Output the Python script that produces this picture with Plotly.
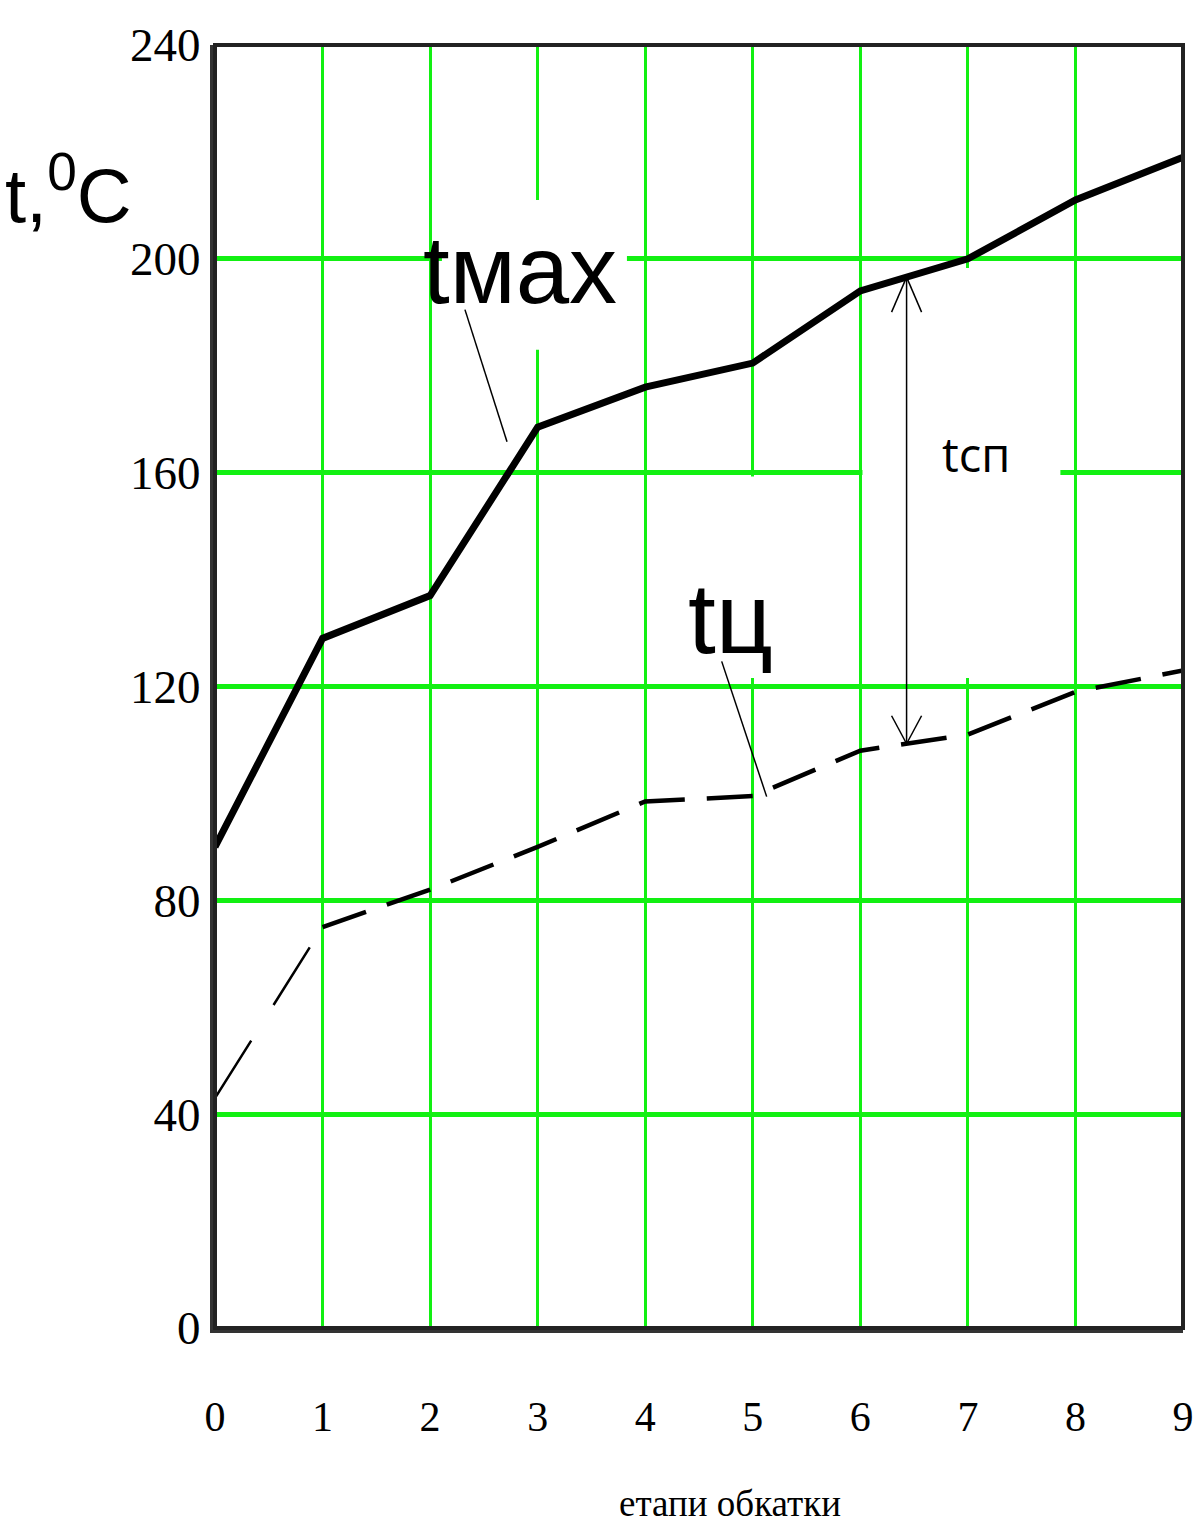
import numpy as np
import plotly.graph_objects as go

# Rolling-in stages and the two temperature curves (°C)
stages = [0, 1, 2, 3, 4, 5, 6, 7, 8, 9]
t_max = [90, 129, 137, 168.5, 176, 180.5, 194, 200, 211, 219]
t_c = [43, 75, 82, 90, 98.5, 99.5, 108, 111, 119, 123]

x_ticks = [0, 1, 2, 3, 4, 5, 6, 7, 8, 9]
y_ticks = [0, 40, 80, 120, 160, 200, 240]
x_title = "етапи обкатки"

# canvas geometry (px)
W, H = 1195, 1525
ML, MR, MT, MB = 215, 12, 45, 197
PW = W - ML - MR
PH = H - MT - MB
PLOT_BOTTOM = MT + PH
X_RANGE, Y_RANGE = (0, 9), (0, 240)
px_x = (X_RANGE[1] - X_RANGE[0]) / PW   # data units per pixel
px_y = (Y_RANGE[1] - Y_RANGE[0]) / PH


def paper_x(px):
    return (px - ML) / PW


def paper_y(py):
    return (PLOT_BOTTOM - py) / PH


GREEN = "#12f012"
SANS = "Liberation Sans, Arial, sans-serif"
SERIF = "Liberation Serif, Times New Roman, serif"

fig = go.Figure()

# t_max: solid heavy line
fig.add_trace(go.Scatter(
    x=stages, y=t_max, mode="lines",
    line=dict(color="black", width=7), showlegend=False, hoverinfo="skip"))

# t_c: thin dashed first stage, heavier dashes afterwards
fig.add_trace(go.Scatter(
    x=stages[:2], y=t_c[:2], mode="lines",
    line=dict(color="black", width=2.5, dash="68px,42px"),
    showlegend=False, hoverinfo="skip"))
fig.add_trace(go.Scatter(
    x=stages[1:], y=t_c[1:], mode="lines",
    line=dict(color="black", width=4.5, dash="46px,22px"),
    showlegend=False, hoverinfo="skip"))

# temperature difference arrow between the curves
xa = 6.43
ya_top = float(np.interp(xa, stages, t_max))
ya_bot = float(np.interp(xa, stages, t_c))
hx, hy = 15 * px_x, 35 * px_y
shapes = []

# white patches behind the labels (above grid, below curves)
for x0, x1, y0, y1 in [(2.11, 3.83, 183, 211),
                       (4.32, 5.35, 121.6, 159.3),
                       (6.02, 7.86, 121.6, 198.3)]:
    shapes.append(dict(type="rect", xref="x", yref="y", x0=x0, x1=x1, y0=y0, y1=y1,
                       fillcolor="white", line=dict(width=0), layer="between"))

arrow = [
    (xa, ya_top, xa, ya_bot),
    (xa, ya_top, xa - hx, ya_top - hy), (xa, ya_top, xa + hx, ya_top - hy),
    (xa, ya_bot, xa - hx, ya_bot + hy * 0.8), (xa, ya_bot, xa + hx, ya_bot + hy * 0.8),
]
for x0, y0, x1, y1 in arrow:
    shapes.append(dict(type="line", xref="x", yref="y", x0=x0, y0=y0, x1=x1, y1=y1,
                       line=dict(color="black", width=1.5), layer="above"))

# leader lines from the curve labels
shapes.append(dict(type="line", xref="x", yref="y", x0=2.324, y0=190.5, x1=2.715, y1=165.8,
                   line=dict(color="black", width=1.5), layer="above"))
shapes.append(dict(type="line", xref="x", yref="y", x0=4.711, y0=124.7, x1=5.129, y1=99.4,
                   line=dict(color="black", width=1.5), layer="above"))

# plot frame
shapes.append(dict(type="rect", xref="paper", yref="paper", x0=0, x1=1, y0=0, y1=1,
                   line=dict(color="#222", width=4), layer="above"))

annotations = [
    dict(x=2.84, y=198, xref="x", yref="y", text="tмax", showarrow=False,
         font=dict(family=SANS, size=96, color="black"), yanchor="middle"),
    dict(x=4.79, y=132.8, xref="x", yref="y", text="tц", showarrow=False,
         font=dict(family=SANS, size=100, color="black"), yanchor="middle"),
    dict(x=7.08, y=163.5, xref="x", yref="y", text="tсп", showarrow=False,
         font=dict(family="Open Sans, DejaVu Sans, sans-serif", size=47, color="black"),
         yanchor="middle"),
    dict(x=paper_x(68), y=paper_y(190), xref="paper", yref="paper", text="t,<sup>0</sup>C",
         showarrow=False, font=dict(family=SANS, size=76, color="black"),
         xanchor="center", yanchor="middle"),
    dict(x=paper_x(730), y=paper_y(1503), xref="paper", yref="paper",
         text=x_title, showarrow=False,
         font=dict(family=SERIF, size=37, color="black"),
         xanchor="center", yanchor="middle"),
]

fig.update_layout(
    width=W, height=H,
    margin=dict(l=ML, r=MR, t=MT, b=MB, pad=0, autoexpand=False),
    paper_bgcolor="white", plot_bgcolor="white",
    shapes=shapes, annotations=annotations,
    xaxis=dict(range=list(X_RANGE), tickvals=x_ticks, ticktext=[str(v) for v in x_ticks],
               automargin=False, ticklabeloverflow="allow",
               showgrid=True, gridcolor=GREEN, gridwidth=3, zeroline=False,
               showline=True, linecolor="#333", linewidth=5,
               ticks="outside", ticklen=48, tickcolor="rgba(0,0,0,0)",
               tickfont=dict(family=SERIF, size=42, color="black")),
    yaxis=dict(range=list(Y_RANGE), tickvals=y_ticks, ticktext=[str(v) for v in y_ticks],
               automargin=False, ticklabeloverflow="allow",
               showgrid=True, gridcolor=GREEN, gridwidth=5, zeroline=False,
               showline=True, linecolor="#333", linewidth=5,
               ticks="",
               tickfont=dict(family=SERIF, size=47, color="black")),
)

fig.write_html("out.html")
